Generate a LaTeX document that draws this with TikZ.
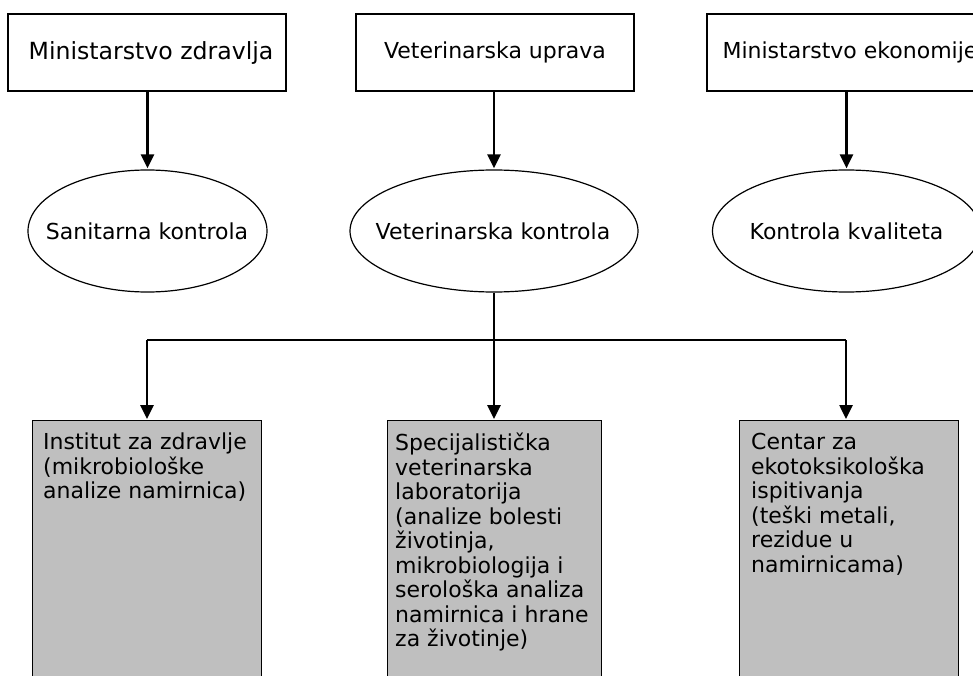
\documentclass[tikz,border=0pt]{standalone}
\usepackage{fontspec}
\setmainfont{DejaVu Sans}
\usetikzlibrary{arrows.meta,shapes.geometric}
\begin{document}
\begin{tikzpicture}[x=1pt,y=-1pt,
  topbox/.style={draw=black,line width=1.3pt,fill=white,minimum height=77pt,inner sep=0pt},
  oval/.style={draw=black,line width=1.2pt,ellipse,inner sep=0pt,minimum height=122pt},
  lbl/.style={inner sep=0pt,font=\fontsize{22}{26}\selectfont},
  labbox/.style={draw=black,line width=1.3pt,fill=black!25,anchor=north west,inner sep=0pt},
  labtext/.style={anchor=north west,inner sep=0pt,align=left,font=\fontsize{22}{24.5}\selectfont},
  arr/.style={line width=2.6pt,-{Triangle[width=13pt,length=14pt]},shorten >=1pt},
  conn/.style={line width=2.4pt}]
\useasboundingbox (0,0) rectangle (973,676);
\clip (0,0) rectangle (973,676);
% top boxes
\node[topbox,minimum width=278pt] (m1) at (147,52.5) {};
\node[topbox,minimum width=278pt] (m2) at (495,52.5) {};
\node[topbox,minimum width=278pt] (m3) at (846,52.5) {};
\node[lbl,font=\fontsize{23.6}{26}\selectfont] (tm1) at (151,52.5) {Ministarstvo zdravlja};
\node[lbl] (tm2) at (495,52.5) {Veterinarska uprava};
\node[lbl] (tm3) at (850,52.5) {Ministarstvo ekonomije};
% ellipses
\node[oval,minimum width=239pt] (e1) at (147.5,231) {};
\node[oval,minimum width=288pt] (e2) at (494,231) {};
\node[oval,minimum width=268pt] (e3) at (846.5,231) {};
\node[lbl] (te1) at (147,231) {Sanitarna kontrola};
\node[lbl] (te2) at (493,231) {Veterinarska kontrola};
\node[lbl] (te3) at (846.5,231) {Kontrola kvaliteta};
% bottom boxes
\node[labbox,minimum width=229pt,minimum height=280pt] (b1) at (32,420) {};
\node[labbox,minimum width=214pt,minimum height=280pt] (b2) at (387,420) {};
\node[labbox,minimum width=219pt,minimum height=280pt] (b3) at (739,420) {};
\node[labtext] (t1) at (43,433) {Institut za zdravlje\\(mikrobiološke\\analize namirnica)};
\node[labtext] (t2) at (395,433) {Specijalistička\\veterinarska\\laboratorija\\(analize bolesti\\životinja,\\mikrobiologija i\\serološka analiza\\namirnica i hrane\\za životinje)};
\node[labtext] (t3) at (751,433) {Centar za\\ekotoksikološka\\ispitivanja\\(teški metali,\\rezidue u\\namirnicama)};
% junction coordinates
\coordinate (j1) at (147,340);
\coordinate (j2) at (494,340);
\coordinate (j3) at (846,340);
% arrows top -> ellipses
\draw[arr] (m1.south -| e1.north) -- (e1.north);
\draw[arr] (m2.south -| e2.north) -- (e2.north);
\draw[arr] (m3.south -| e3.north) -- (e3.north);
% distribution
\draw[conn] (e2.south) -- (j2);
\draw[conn] (j1) -- (j3);
\draw[arr] (j1) -- (j1 |- b1.north);
\draw[arr] (j2) -- (j2 |- b2.north);
\draw[arr] (j3) -- (j3 |- b3.north);
\end{tikzpicture}
\end{document}
